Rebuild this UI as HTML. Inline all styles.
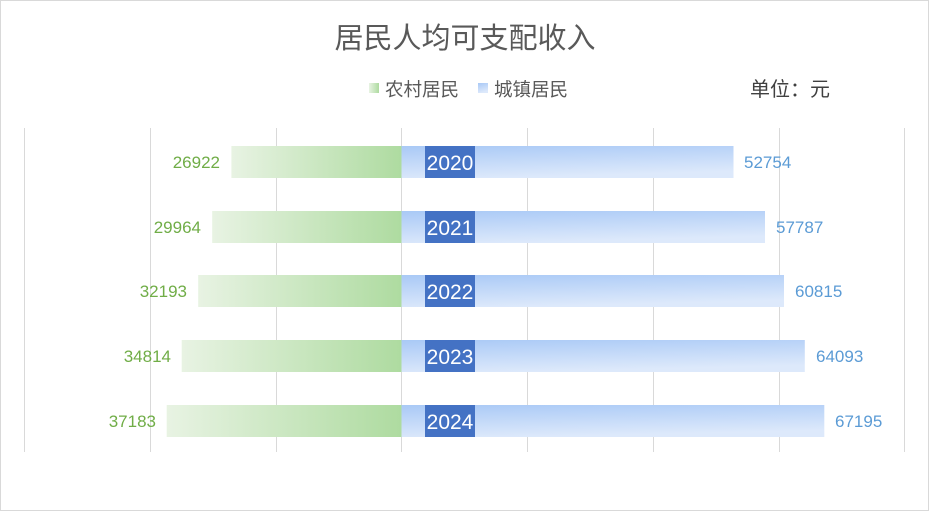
<!DOCTYPE html>
<html><head><meta charset="utf-8"><style>
html,body{margin:0;padding:0;background:#fff}
svg{display:block;font-family:"Liberation Sans","Noto Sans CJK SC",sans-serif}
</style></head><body>
<svg width="929" height="511" viewBox="0 0 929 511" xmlns="http://www.w3.org/2000/svg">
<defs>
<linearGradient id="g" x1="0" y1="0" x2="1" y2="0">
<stop offset="0" stop-color="#e8f3e3"/><stop offset="1" stop-color="#aedba0"/></linearGradient>
<linearGradient id="b" x1="0" y1="0" x2="0.3" y2="1">
<stop offset="0" stop-color="#a9c9f6"/><stop offset="1" stop-color="#dde9fb"/></linearGradient>
</defs>
<rect x="0.5" y="0.5" width="928" height="510" fill="#fff" stroke="#d9d9d9"/>
<text x="465" y="48" font-size="29" fill="#595959" text-anchor="middle">居民人均可支配收入</text>
<rect x="369" y="83" width="10" height="10" fill="url(#g)"/>
<text x="385" y="96" font-size="18.5" fill="#595959">农村居民</text>
<rect x="478" y="83" width="10" height="10" fill="url(#b)"/>
<text x="494" y="96" font-size="18.5" fill="#595959">城镇居民</text>
<text x="750" y="96" font-size="20" fill="#404040">单位：元</text>
<g stroke="#d9d9d9" stroke-width="1">
<line x1="24.5" y1="128" x2="24.5" y2="452"/><line x1="150.5" y1="128" x2="150.5" y2="452"/>
<line x1="276.5" y1="128" x2="276.5" y2="452"/><line x1="401.5" y1="128" x2="401.5" y2="452"/>
<line x1="527.5" y1="128" x2="527.5" y2="452"/><line x1="653.5" y1="128" x2="653.5" y2="452"/>
<line x1="779.5" y1="128" x2="779.5" y2="452"/><line x1="904.5" y1="128" x2="904.5" y2="452"/>
</g>
<g font-size="17">
<rect x="231.4" y="146" width="170.1" height="32" fill="url(#g)"/>
<rect x="401.5" y="146" width="332" height="32" fill="url(#b)"/>
<text x="220" y="168" fill="#70ad47" text-anchor="end">26922</text>
<text x="744" y="168" fill="#5b9bd5">52754</text>
<rect x="212.2" y="211" width="189.3" height="32" fill="url(#g)"/>
<rect x="401.5" y="211" width="363.5" height="32" fill="url(#b)"/>
<text x="201" y="233" fill="#70ad47" text-anchor="end">29964</text>
<text x="776" y="233" fill="#5b9bd5">57787</text>
<rect x="198.2" y="275" width="203.3" height="32" fill="url(#g)"/>
<rect x="401.5" y="275" width="382.5" height="32" fill="url(#b)"/>
<text x="187" y="297" fill="#70ad47" text-anchor="end">32193</text>
<text x="795" y="297" fill="#5b9bd5">60815</text>
<rect x="181.7" y="340" width="219.8" height="32" fill="url(#g)"/>
<rect x="401.5" y="340" width="403.3" height="32" fill="url(#b)"/>
<text x="171" y="362" fill="#70ad47" text-anchor="end">34814</text>
<text x="816" y="362" fill="#5b9bd5">64093</text>
<rect x="166.7" y="405" width="234.8" height="32" fill="url(#g)"/>
<rect x="401.5" y="405" width="422.8" height="32" fill="url(#b)"/>
<text x="156" y="427" fill="#70ad47" text-anchor="end">37183</text>
<text x="835" y="427" fill="#5b9bd5">67195</text>
</g>
<g font-size="21" fill="#fff" text-anchor="middle">
<rect x="425" y="146" width="50" height="32" fill="#4472c4"/><text x="450" y="170">2020</text>
<rect x="425" y="211" width="50" height="32" fill="#4472c4"/><text x="450" y="235">2021</text>
<rect x="425" y="275" width="50" height="32" fill="#4472c4"/><text x="450" y="299">2022</text>
<rect x="425" y="340" width="50" height="32" fill="#4472c4"/><text x="450" y="364">2023</text>
<rect x="425" y="405" width="50" height="32" fill="#4472c4"/><text x="450" y="429">2024</text>
</g>
</svg>
</body></html>
